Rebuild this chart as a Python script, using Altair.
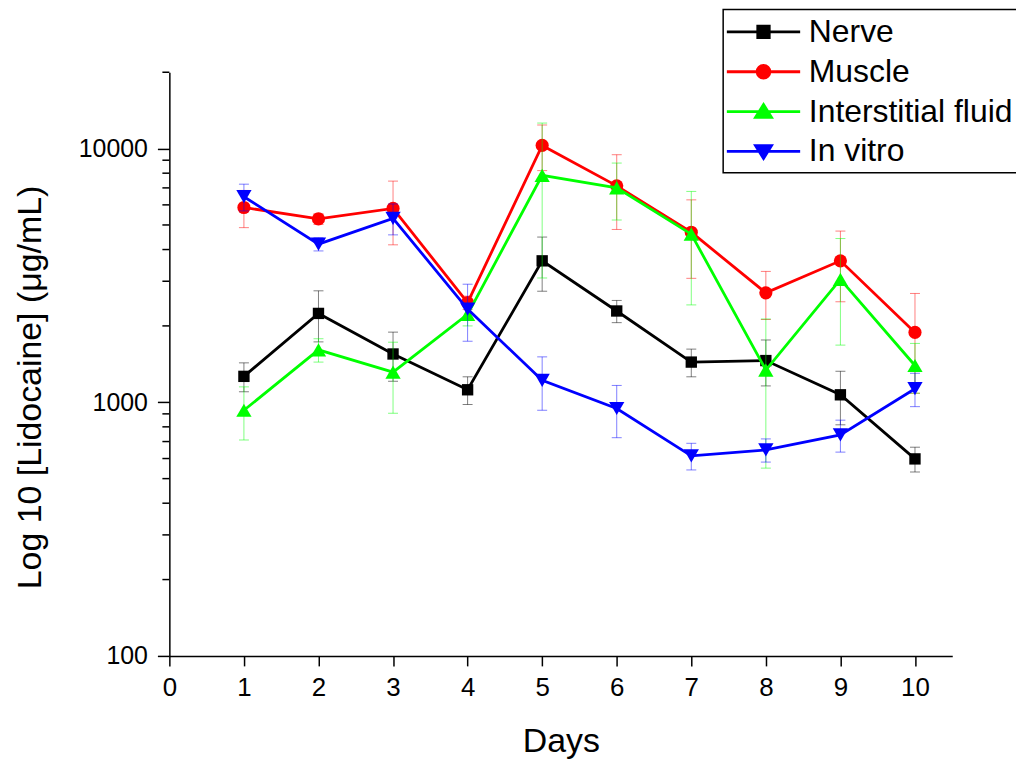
import altair as alt
import pandas as pd

days = list(range(1, 11))
series_names = ["Nerve", "Muscle", "Interstitial fluid", "In vitro"]
series_colors = ["#000000", "#FF0000", "#00FF00", "#0000FF"]

nerve = [1265, 2240, 1550, 1120, 3610, 2290, 1440, 1460, 1070, 598]
nerve_sd = [165, 510, 340, 140, 870, 230, 180, 300, 255, 67]
muscle = [5860, 5280, 5810, 2470, 10290, 7130, 4680, 2700, 3610, 1885]
muscle_sd = [980, 260, 1635, 150, 2100, 2330, 1600, 580, 1120, 800]
interstitial = [930, 1610, 1315, 2220, 7850, 7000, 4600, 1340, 3050, 1396]
interstitial_sd = [220, 170, 410, 220, 4760, 1770, 2180, 790, 1370, 310]
invitro = [6460, 4200, 5310, 2330, 1220, 945, 615, 649, 743, 1131]
invitro_sd = [780, 250, 740, 590, 290, 220, 74, 68, 107, 170]

y_major_ticks = [100, 1000, 10000]
y_minor_ticks = [200, 300, 400, 500, 600, 700, 800, 900,
                 2000, 3000, 4000, 5000, 6000, 7000, 8000, 9000, 20000]
x_ticks = list(range(0, 11))

marker_shapes = ["square", "circle", "triangle-up", "triangle-down"]
marker_sizes = [130, 175, 235, 235]
legend_paths = [
    "M-2.3,0H2.3M-0.36,-0.36H0.36V0.36H-0.36Z",
    "M-2.3,0H2.3M-0.4,0A0.4,0.4 0 1,0 0.4,0A0.4,0.4 0 1,0 -0.4,0Z",
    "M-2.3,0H2.3M0,-0.44L0.5,0.36H-0.5Z",
    "M-2.3,0H2.3M0,0.44L0.5,-0.36H-0.5Z",
]

all_vals = [nerve, muscle, interstitial, invitro]
all_sds = [nerve_sd, muscle_sd, interstitial_sd, invitro_sd]

rows = []
for name, vals, sds in zip(series_names, all_vals, all_sds):
    for d, v, s in zip(days, vals, sds):
        rows.append({"day": d, "series": name, "value": v, "lo": v - s, "hi": v + s})
df = pd.DataFrame(rows)

FONT = "Liberation Sans"
YTITLE = "Log 10 [Lidocaine] (μg/mL)"
xscale = alt.Scale(domain=[0, 10.5], nice=False, zero=False)
yscale = alt.Scale(type="log", domain=[100, 20000], nice=False)

x_axis = alt.Axis(values=x_ticks, title="Days", labelFontSize=26, titleFontSize=34,
                  tickSize=10, labelPadding=9, titlePadding=24, grid=False,
                  labelFlush=False, titleFontWeight="normal")
y_axis = alt.Axis(values=y_major_ticks, format="d", title=YTITLE,
                  labelFontSize=25, titleFontSize=34, tickSize=12, labelPadding=10,
                  titlePadding=31, titleY=316, grid=False, labelFlush=False,
                  titleFontWeight="normal")

X = alt.X("day:Q", scale=xscale, axis=x_axis, title="Days")

layers = []

legend = alt.Legend(
    title=None, orient="none", legendX=556, legendY=-63,
    strokeColor="black", padding=5, symbolSize=1024, symbolStrokeWidth=2.8,
    symbolOffset=18, labelOffset=28, labelFontSize=32, labelFont=FONT,
    labelLimit=0, rowPadding=6, symbolOpacity=1, fillColor="white",
)

legend_layer = alt.Chart(df).mark_point(opacity=0, strokeWidth=2.8).encode(
    x=X,
    y=alt.Y("value:Q", scale=yscale, axis=y_axis, title=YTITLE),
    fill=alt.Fill("series:N", scale=alt.Scale(domain=series_names, range=series_colors),
                  legend=legend),
    stroke=alt.Stroke("series:N", scale=alt.Scale(domain=series_names, range=series_colors),
                      legend=legend),
    shape=alt.Shape("series:N", scale=alt.Scale(domain=series_names, range=legend_paths),
                    legend=legend),
)
layers.append(legend_layer)

# minor y ticks
minor = alt.Chart(pd.DataFrame({"v": y_minor_ticks})).mark_rule(
    color="black", strokeWidth=1.5
).encode(
    y=alt.Y("v:Q", scale=yscale, axis=y_axis, title=YTITLE),
    x=alt.value(-7), x2=alt.value(0),
)
layers.append(minor)

for name, col, shp, sz in zip(series_names, series_colors, marker_shapes, marker_sizes):
    base = alt.Chart(df).transform_filter(alt.datum.series == name)
    Y = alt.Y("value:Q", scale=yscale, axis=y_axis, title=YTITLE)
    err = base.mark_errorbar(ticks=True, size=10, thickness=1, color=col, opacity=0.5).encode(
        x=X,
        y=alt.Y("lo:Q", scale=yscale, axis=y_axis, title=YTITLE),
        y2="hi:Q",
    )
    line = base.mark_line(color=col, strokeWidth=2.8).encode(x=X, y=Y)
    pts = base.mark_point(shape=shp, filled=True, color=col, size=sz, opacity=1).encode(x=X, y=Y)
    layers += [err, line, pts]

chart = alt.layer(*layers).properties(
    width=786, height=586,
    autosize=alt.AutoSizeParams(type="none"),
    padding={"left": 162, "top": 63, "right": 64, "bottom": 104},
    background="white",
).configure_view(stroke=None).configure_axis(
    labelFont=FONT, titleFont=FONT, labelColor="black", titleColor="black",
    domainColor="black", tickColor="black", domainWidth=1.5, tickWidth=1.5,
).configure_legend(strokeWidth=1.5)

chart.save("out.html", embed_options={"renderer": "svg", "actions": False})
